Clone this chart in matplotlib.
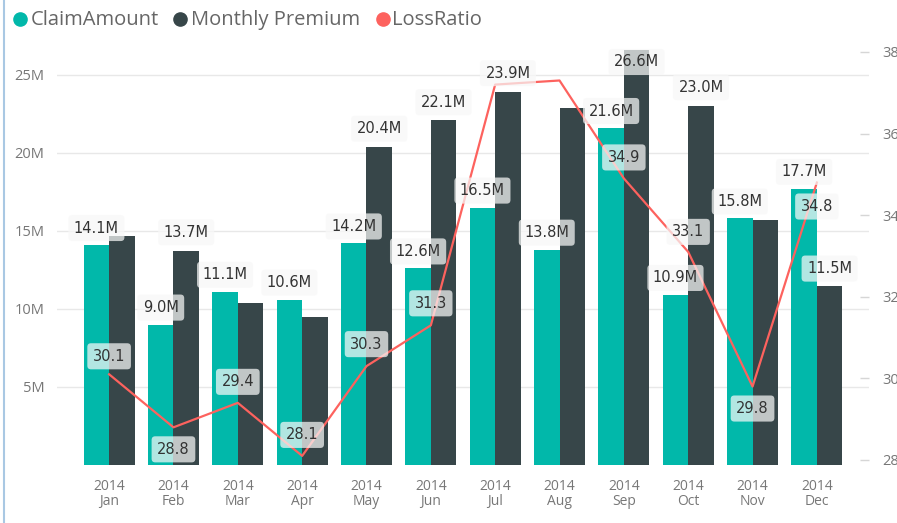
import matplotlib.pyplot as plt
from matplotlib.lines import Line2D
import numpy as np

# values (amounts in millions)
months = ['Jan', 'Feb', 'Mar', 'Apr', 'May', 'Jun', 'Jul', 'Aug', 'Sep', 'Oct', 'Nov', 'Dec']
years = ['2014'] * 12
claim_amount = [14.1, 9.0, 11.1, 10.6, 14.2, 12.6, 16.5, 13.8, 21.6, 10.9, 15.8, 17.7]
monthly_premium = [14.7, 13.7, 10.4, 9.5, 20.4, 22.1, 23.9, 22.9, 26.6, 23.0, 15.7, 11.5]
loss_ratio = [30.1, 28.8, 29.4, 28.1, 30.3, 31.3, 37.2, 37.3, 34.9, 33.1, 29.8, 34.8]

# which data labels the report shows (overlapping ones are hidden)
show_premium = [False, True, False, False, True, True, True, False, True, True, False, True]
show_loss = [True, True, True, True, True, True, False, False, True, True, True, True]

# label offsets in pixels (positive = above the value)
premium_off = [18, 19, 18, 18, 18, 18, 19, 18, -12, 19, 18, 17]
loss_off = [18, -22, 21, 21, 22, 22, 21, 21, 21, 20, -22, -24]

teal = '#01B8AA'
dark = '#374649'
red = '#FD625E'
grey_txt = '#777777'
lbl_col = '#333333'
PX = 0.72  # pixels -> points at dpi 100

W, H = 897, 523
fig = plt.figure(figsize=(W / 100, H / 100), dpi=100)
ax = fig.add_axes([57 / W, 1 - 465 / H, (869 - 57) / W, (465 - 45) / H])
ax2 = ax.twinx()

x = np.arange(len(months))
bw = 0.396
ax.bar(x - bw / 2, claim_amount, bw, color=teal, zorder=2)
ax.bar(x + bw / 2, monthly_premium, bw, color=dark, zorder=2)
ax.set_xlim(-0.81, 11.81)
ax.set_ylim(0, 26.92)
ax.set_yticks([5, 10, 15, 20, 25])
ax.set_yticklabels([f'{v}M' for v in [5, 10, 15, 20, 25]], family='Open Sans',
                   fontsize=10.5, color=grey_txt)
ax.yaxis.grid(True, color='#e8e8e8', lw=1)
ax.set_axisbelow(True)
ax.tick_params(axis='y', length=0, pad=9)
ax.set_xticks(x)
ax.set_xticklabels([f'{y}\n{m}' for y, m in zip(years, months)], family='Open Sans',
                   fontsize=10, color=grey_txt, linespacing=1.0)
ax.tick_params(axis='x', length=0, pad=10)

ax2.plot(x, loss_ratio, color=red, lw=1.6, zorder=3)
ax2.set_ylim(27.877, 38.17)
ax2.set_yticks([28, 30, 32, 34, 36, 38])
ax2.tick_params(axis='y', direction='in', length=6.5, width=1, color='#d6d6d6',
                labelcolor=grey_txt, labelsize=10.5, pad=9.5)
for t in ax2.get_yticklabels():
    t.set_family('Open Sans')

for a in (ax, ax2):
    for s in a.spines.values():
        s.set_visible(False)

box = dict(boxstyle='round,pad=0.38,rounding_size=0.25', fc='#f8f8f8', ec='none', alpha=0.72)


def label(xv, yv, text, off, trans):
    ax2.annotate(text, xy=(xv, yv), xycoords=trans, xytext=(0, off * PX),
                 textcoords='offset points', ha='center', va='center',
                 fontsize=10.5, color=lbl_col, bbox=box, zorder=5,
                 annotation_clip=False)


for i in range(len(months)):
    label(x[i] - bw / 2, claim_amount[i], f'{claim_amount[i]:.1f}M', 17, ax.transData)
    if show_premium[i]:
        label(x[i] + bw / 2, monthly_premium[i], f'{monthly_premium[i]:.1f}M',
              premium_off[i], ax.transData)
    if show_loss[i]:
        label(x[i], loss_ratio[i], f'{loss_ratio[i]:.1f}', loss_off[i], ax2.transData)

# legend drawn across the top
legend_items = [('ClaimAmount', teal, 20, 31), ('Monthly Premium', dark, 180, 191),
                ('LossRatio', red, 383, 392)]
for name, col, cx, tx in legend_items:
    fig.add_artist(Line2D([cx / W], [1 - 19 / H], marker='o', ms=9.5, color=col,
                          transform=fig.transFigure))
    fig.text(tx / W, 1 - 20 / H, name, va='center', ha='left', family='Open Sans',
             fontsize=14.5, color='#666666')

# left edge border of the visual
fig.add_artist(Line2D([3.5 / W] * 2, [0, 1], transform=fig.transFigure,
                      color='#a9c8e3', lw=1.5))

fig.savefig('out.png', dpi=100)
